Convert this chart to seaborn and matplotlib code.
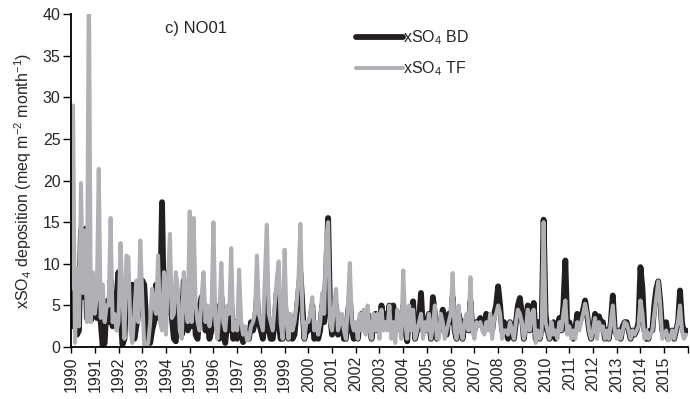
import numpy as np
import pandas as pd
import matplotlib
matplotlib.use('Agg')
import matplotlib.pyplot as plt
import seaborn as sns

years = list(range(1990, 2016))

# monthly xSO4 deposition, bulk deposition (BD), one row per year
bd = [
    [7.3, 2.5, 9.0, 1.5, 2.0, 14.0, 6.0, 14.2, 3.5, 6.5, 3.2, 7.0],
    [6.5, 3.5, 5.5, 3.0, 0.0, 0.5, 5.5, 3.0, 8.0, 2.5, 3.5, 6.0],
    [9.0, 4.0, 0.3, 1.0, 7.0, 5.0, 4.5, 7.5, 1.0, 2.5, 4.0, 8.0],
    [8.0, 7.5, 3.0, 1.0, 0.5, 2.0, 3.0, 7.5, 3.5, 4.0, 17.4, 4.0],
    [4.0, 9.0, 8.0, 3.5, 1.0, 0.7, 6.0, 4.5, 1.5, 8.0, 5.0, 2.0],
    [5.5, 2.5, 7.0, 1.5, 1.0, 4.5, 6.0, 5.0, 2.0, 3.0, 1.0, 2.0],
    [4.0, 5.0, 3.0, 1.0, 6.0, 2.0, 0.5, 3.0, 2.0, 5.0, 1.0, 3.0],
    [1.0, 4.0, 2.0, 0.6, 2.0, 1.5, 1.0, 3.0, 2.0, 3.0, 6.0, 3.0],
    [2.0, 1.0, 4.0, 6.5, 2.0, 1.0, 1.0, 3.0, 6.5, 3.0, 1.0, 1.0],
    [6.0, 2.0, 1.0, 3.0, 1.0, 1.5, 4.0, 6.5, 9.0, 5.0, 1.0, 2.0],
    [2.0, 3.0, 5.0, 1.0, 1.5, 1.0, 2.0, 5.0, 3.0, 9.0, 15.5, 4.0],
    [1.5, 3.0, 5.0, 1.5, 2.0, 3.0, 1.0, 1.0, 4.0, 6.0, 2.0, 1.0],
    [2.0, 1.0, 3.0, 4.0, 3.0, 2.0, 4.0, 3.0, 1.0, 3.0, 4.0, 2.0],
    [2.0, 5.0, 3.0, 4.0, 3.0, 5.0, 4.0, 5.0, 2.0, 3.5, 4.0, 2.0],
    [5.0, 2.0, 0.7, 4.0, 3.0, 5.5, 1.0, 2.0, 3.0, 6.5, 2.0, 2.0],
    [3.0, 4.0, 1.0, 6.0, 4.0, 1.0, 2.0, 3.0, 4.5, 2.0, 1.5, 4.0],
    [3.0, 6.0, 2.0, 1.0, 4.0, 3.0, 1.0, 3.0, 3.0, 2.0, 5.5, 2.0],
    [2.0, 3.0, 3.0, 3.5, 3.0, 2.0, 4.0, 3.0, 3.5, 2.0, 4.0, 5.0],
    [7.3, 5.0, 2.0, 3.0, 2.0, 1.0, 3.0, 2.0, 1.0, 3.0, 5.0, 5.9],
    [4.0, 1.0, 3.0, 5.0, 2.0, 3.0, 5.3, 1.0, 3.0, 1.0, 2.0, 15.3],
    [4.0, 2.0, 1.0, 2.0, 3.0, 1.0, 2.0, 3.5, 2.0, 5.0, 10.4, 2.0],
    [3.0, 2.0, 1.0, 2.0, 4.0, 3.0, 3.5, 4.5, 5.6, 4.0, 2.0, 1.0],
    [2.0, 4.0, 2.0, 3.7, 3.0, 3.0, 1.0, 2.0, 1.0, 3.0, 6.2, 2.0],
    [1.5, 2.0, 1.0, 2.5, 3.0, 3.0, 2.0, 1.0, 2.0, 1.5, 2.0, 3.0],
    [9.6, 7.0, 2.0, 1.0, 1.0, 2.0, 2.0, 5.0, 7.0, 7.9, 5.5, 2.0],
    [2.0, 3.0, 1.0, 1.5, 2.0, 1.0, 2.0, 3.0, 6.8, 3.0, 1.5, 2.0],
]

# monthly xSO4 deposition, throughfall (TF)
tf = [
    [7.0, 29.0, 0.5, 9.5, 2.5, 19.7, 6.5, 14.0, 3.0, 45.0, 3.0, 9.0],
    [4.0, 6.0, 21.4, 3.5, 7.5, 3.0, 5.0, 5.0, 15.5, 3.0, 4.0, 2.0],
    [3.0, 12.5, 6.0, 1.0, 11.0, 10.8, 2.0, 0.5, 4.0, 8.0, 3.0, 12.8],
    [6.0, 0.0, 0.0, 0.5, 3.0, 7.0, 5.0, 4.0, 11.0, 3.0, 2.0, 9.0],
    [1.5, 8.0, 13.6, 3.5, 4.0, 9.0, 7.0, 2.0, 1.0, 9.0, 5.0, 3.0],
    [16.3, 3.0, 15.5, 5.0, 3.0, 2.0, 6.0, 9.0, 3.0, 5.0, 2.5, 4.0],
    [15.0, 3.0, 1.0, 4.0, 10.1, 3.0, 2.0, 5.0, 4.0, 11.9, 2.0, 3.0],
    [2.0, 9.3, 3.0, 1.5, 2.5, 0.8, 1.0, 2.5, 3.0, 4.0, 11.0, 4.0],
    [3.0, 2.0, 8.0, 14.7, 4.0, 3.0, 2.0, 5.0, 8.0, 10.3, 3.0, 1.0],
    [11.7, 3.0, 1.0, 4.0, 2.0, 3.0, 5.0, 8.0, 14.8, 4.0, 1.0, 3.0],
    [3.0, 4.0, 6.0, 2.0, 3.0, 1.5, 3.0, 6.5, 4.0, 13.0, 15.0, 3.0],
    [2.0, 5.0, 7.0, 2.0, 3.0, 4.0, 2.0, 1.0, 5.0, 10.1, 3.0, 2.0],
    [3.0, 1.0, 4.0, 2.0, 4.5, 1.5, 5.0, 2.0, 1.0, 4.0, 2.0, 4.0],
    [1.0, 4.5, 2.0, 3.0, 2.0, 5.0, 1.0, 3.0, 0.5, 4.5, 3.0, 1.0],
    [9.2, 3.0, 1.0, 5.0, 2.0, 4.5, 1.0, 2.0, 3.0, 4.0, 1.0, 3.0],
    [2.0, 4.0, 1.0, 2.5, 5.0, 1.0, 1.0, 4.0, 3.0, 1.0, 2.0, 3.0],
    [4.0, 8.9, 2.0, 1.0, 5.0, 2.0, 1.0, 3.0, 4.0, 2.0, 8.4, 2.0],
    [1.0, 3.0, 2.5, 3.0, 2.0, 1.5, 3.0, 2.0, 4.0, 1.0, 3.5, 4.0],
    [5.0, 4.0, 1.0, 2.0, 2.0, 1.5, 3.0, 2.0, 1.0, 3.0, 4.5, 4.0],
    [3.0, 1.0, 2.0, 4.5, 2.0, 4.0, 4.5, 0.5, 2.0, 1.0, 1.5, 15.0],
    [3.0, 2.0, 1.0, 3.0, 1.5, 2.0, 1.0, 3.0, 2.0, 4.0, 5.6, 1.5],
    [2.5, 1.0, 2.0, 1.0, 3.0, 2.0, 3.0, 4.0, 5.2, 4.0, 2.0, 1.0],
    [2.0, 3.5, 1.0, 3.0, 2.0, 2.5, 1.0, 2.0, 1.0, 3.0, 5.0, 2.0],
    [1.0, 2.0, 1.0, 2.0, 3.0, 2.8, 2.0, 1.0, 2.0, 1.5, 2.0, 2.5],
    [5.6, 4.0, 1.0, 2.0, 1.0, 1.5, 2.0, 4.0, 6.0, 7.9, 5.0, 1.0],
    [1.5, 2.0, 0.8, 1.0, 2.0, 1.0, 2.0, 3.0, 5.0, 2.0, 1.0, 1.5],
]

t = [y + m / 12 for y in years for m in range(12)]
df = pd.DataFrame({'t': t,
                   'BD': np.ravel(bd),
                   'TF': np.ravel(tf)})

sns.set_style('ticks')
plt.rcParams['font.family'] = ['Liberation Sans', 'DejaVu Sans']
plt.rcParams['mathtext.fontset'] = 'custom'
plt.rcParams['mathtext.rm'] = 'Liberation Sans'
plt.rcParams['mathtext.it'] = 'Liberation Sans'

fig = plt.figure(figsize=(6.9, 3.99), dpi=100)
ax = fig.add_axes([0.103, 0.130, 0.894, 0.835])

sns.lineplot(data=df, x='t', y='BD', ax=ax, color='#231f20', lw=4.2,
             label='xSO$_4$ BD', solid_joinstyle='round', solid_capstyle='round')
sns.lineplot(data=df, x='t', y='TF', ax=ax, color='#b1b1b5', lw=2.9,
             label='xSO$_4$ TF', solid_joinstyle='round', solid_capstyle='round')

ax.set_xlim(1990, 2016)
ax.set_ylim(0, 40)
ax.set_xticks(range(1990, 2017))
ax.set_xticklabels([str(y) for y in years] + [''], rotation=90)
ax.set_yticks(range(0, 41, 5))
ax.tick_params(axis='both', labelsize=11.5, width=1, color='black', pad=2)
ax.tick_params(axis='x', length=4.5)
ax.tick_params(axis='y', length=5.5)
ax.set_xlabel('')
ax.set_ylabel('xSO$_4$ deposition (meq m$^{-2}$ month$^{-1}$)', fontsize=11.5,
              labelpad=6)
for s in ['top', 'right']:
    ax.spines[s].set_visible(False)
for s in ['left', 'bottom']:
    ax.spines[s].set_color('black')
    ax.spines[s].set_linewidth(1.3)

ax.text(0.152, 0.978, 'c) NO01', transform=ax.transAxes, fontsize=12,
        va='top', ha='left')
ax.legend(loc='upper left', bbox_to_anchor=(0.452, 0.975), frameon=False,
          fontsize=11.5, handlelength=2.9, handletextpad=0.05,
          labelspacing=0.75, borderaxespad=0)

fig.savefig('out.png', dpi=100)
